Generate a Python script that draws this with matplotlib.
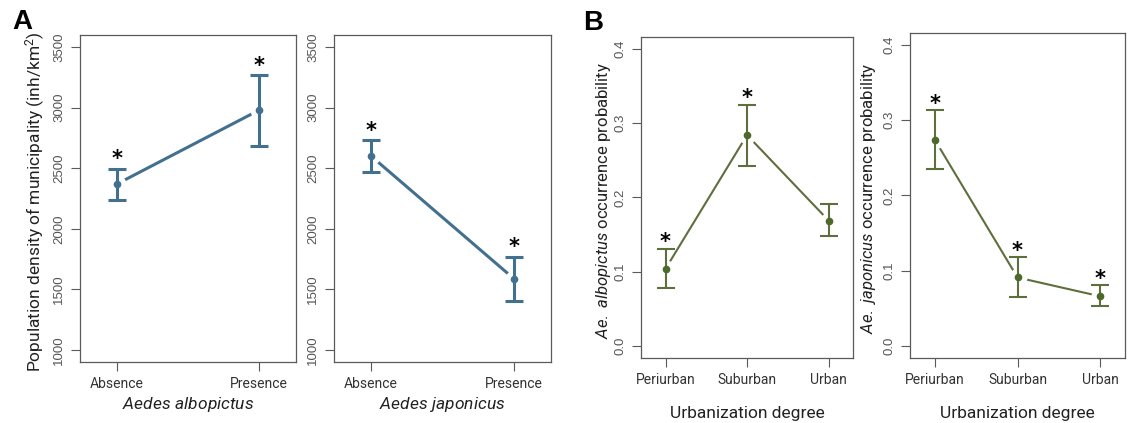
import matplotlib
matplotlib.use("Agg")
import matplotlib.pyplot as plt

plt.rcParams['font.family'] = ['Roboto', 'DejaVu Sans']
plt.rcParams['mathtext.fontset'] = 'custom'
plt.rcParams['mathtext.it'] = 'Roboto:italic'
plt.rcParams['mathtext.rm'] = 'Roboto'

# Panel A: population density by presence/absence
pres_labels = ['Absence', 'Presence']
albo_mean = [2370, 2980]
albo_low = [2235, 2686]
albo_high = [2497, 3270]
albo_sig = [True, True]
japo_mean = [2600, 1588]
japo_low = [2466, 1401]
japo_high = [2733, 1770]
japo_sig = [True, True]

# Panel B: occurrence probability by urbanization degree
urb_labels = ['Periurban', 'Suburban', 'Urban']
balbo_mean = [0.104, 0.284, 0.169]
balbo_low = [0.078, 0.242, 0.148]
balbo_high = [0.131, 0.325, 0.191]
balbo_sig = [True, True, False]
bjapo_mean = [0.274, 0.091, 0.066]
bjapo_low = [0.235, 0.065, 0.053]
bjapo_high = [0.313, 0.118, 0.081]
bjapo_sig = [True, True, True]

BLUE = '#43708f'
GREEN = '#5d6f3d'
GREEN_PT = '#4d6a2c'
SPINE = '#5a5a5a'
TICKC = '#555555'

fig = plt.figure(figsize=(11.3, 4.23), dpi=100)


def panel(rect, labels, mean, low, high, sig, color, ptcolor, lw, ylim, yticks,
          yfmt, xlim, xlabel, xlabelpad, star_off, ylabel=None, ylabel_x=-0.16,
          ylabel_size=12):
    ax = fig.add_axes(rect)
    x = list(range(1, len(labels) + 1))
    err = [[m - l for m, l in zip(mean, low)], [h - m for h, m in zip(high, mean)]]
    # connecting line, broken around points (R type="b")
    ax.plot(x, mean, color=color, lw=lw, zorder=1, solid_capstyle='butt')
    ax.plot(x, mean, 'o', color='white', ms=12, zorder=2)
    ax.errorbar(x, mean, yerr=err, fmt='none', ecolor=color, elinewidth=lw,
                capsize=6.8, capthick=lw, zorder=3)
    ax.plot(x, mean, 'o', color=ptcolor, ms=4.5, zorder=4)
    for xi, h, s in zip(x, high, sig):
        if s:
            ax.annotate('*', xy=(xi, h), xytext=(0, star_off), textcoords='offset points',
                        ha='center', va='bottom', fontsize=15, fontweight='bold',
                        color='black', family='DejaVu Sans')
    ax.set_xlim(*xlim)
    ax.set_ylim(*ylim)
    ax.set_xticks(x)
    ax.set_xticklabels(labels, fontsize=10, color='#333333')
    ax.set_yticks(yticks)
    ax.set_yticklabels([yfmt.format(t) for t in yticks], rotation=90, va='center',
                       fontsize=9.5, color=TICKC, family='Liberation Sans')
    ax.tick_params(axis='both', length=6.5, width=0.8, color=SPINE, pad=4)
    for sp in ax.spines.values():
        sp.set_color(SPINE)
        sp.set_linewidth(0.9)
    ax.set_xlabel(xlabel, fontsize=12.5, color='#222222', labelpad=xlabelpad)
    if ylabel:
        ax.set_ylabel(ylabel, fontsize=ylabel_size, color='#222222')
        ax.yaxis.set_label_coords(ylabel_x, 0.49)
    return ax


yA = [1000, 1500, 2000, 2500, 3000, 3500]
yB = [0.0, 0.1, 0.2, 0.3, 0.4]

panel([0.0708, 0.1442, 0.1912, 0.7730], pres_labels, albo_mean, albo_low, albo_high,
      albo_sig, BLUE, BLUE, 2.2, (900, 3600), yA, '{:d}', (0.74, 2.26),
      r'$\mathit{Aedes\ albopictus}$', 3, -0.6,
      ylabel='Population density of municipality (inh/km$^2$)', ylabel_x=-0.155,
      ylabel_size=12.5)
panel([0.2956, 0.1442, 0.1920, 0.7730], pres_labels, japo_mean, japo_low, japo_high,
      japo_sig, BLUE, BLUE, 2.2, (900, 3600), yA, '{:d}', (0.74, 2.26),
      r'$\mathit{Aedes\ japonicus}$', 3, -0.6)
panel([0.5673, 0.1537, 0.1876, 0.7589], urb_labels, balbo_mean, balbo_low, balbo_high,
      balbo_sig, GREEN, GREEN_PT, 1.5, (-0.016, 0.416), yB, '{:.1f}', (0.7, 3.3),
      'Urbanization degree', 14, -2.6,
      ylabel=r'$\mathit{Ae.\ albopictus}$ occurrence probability', ylabel_x=-0.13)
panel([0.8053, 0.1537, 0.1903, 0.7683], urb_labels, bjapo_mean, bjapo_low, bjapo_high,
      bjapo_sig, GREEN, GREEN_PT, 1.5, (-0.016, 0.416), yB, '{:.1f}', (0.7, 3.3),
      'Urbanization degree', 14, -2.6,
      ylabel=r'$\mathit{Ae.\ japonicus}$ occurrence probability', ylabel_x=-0.15)

fig.text(22 / 1130, 1 - 22 / 423, 'A', fontsize=20, fontweight='bold',
         ha='center', va='center', family='Liberation Sans')
fig.text(593 / 1130, 1 - 23 / 423, 'B', fontsize=20, fontweight='bold',
         ha='center', va='center', family='Liberation Sans')

fig.savefig('out.png', dpi=100)
